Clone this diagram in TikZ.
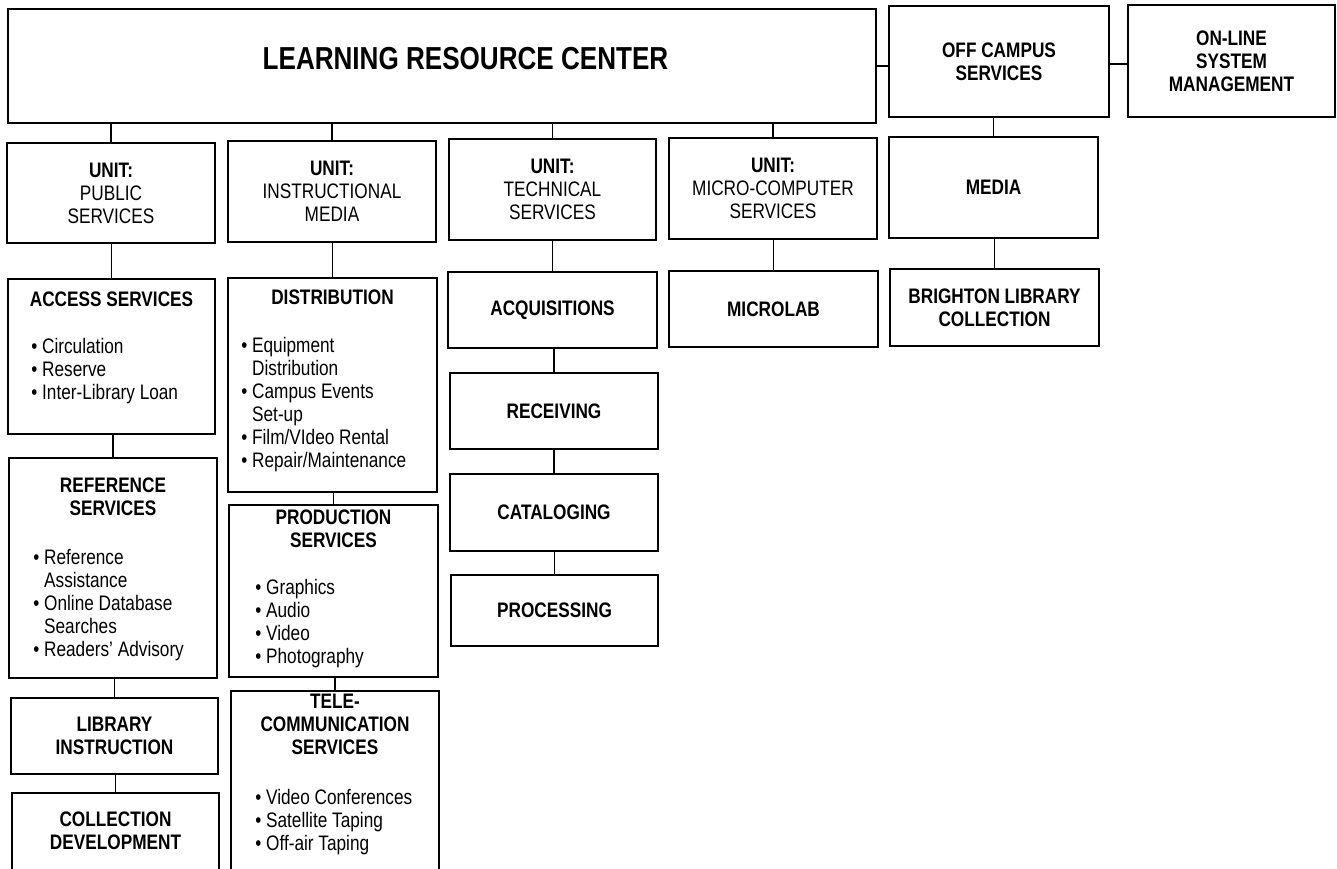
\documentclass[tikz,border=0pt]{standalone}
\usepackage{fontspec}
\setmainfont{Liberation Sans}[FakeStretch=0.82]
\usetikzlibrary{positioning}
\newcommand{\bodysize}{\fontsize{21}{23}\selectfont}
\tikzset{
  obox/.style={draw, line width=1.7pt, inner sep=0pt, align=center, font=\bodysize},
  bbox/.style={obox, font=\bodysize\bfseries},
  head/.style={inner sep=0pt, align=center, font=\bodysize\bfseries},
  items/.style={inner sep=0pt, align=left, anchor=north west, font=\bodysize},
  ctitle/.style={inner sep=0pt, font=\fontsize{31.8}{36}\selectfont\bfseries},
  link/.style={line width=1.2pt},
}
\begin{document}
\begin{tikzpicture}[x=1pt, y=-1pt]
  \useasboundingbox (0,0) rectangle (1337,868);
  \clip (0,0) rectangle (1337,868);
  % top row
  \node[obox, minimum width=868pt, minimum height=114pt] (lrc) at (442,66) {};
  \node[ctitle] (lrc-t) at (465.5,58.5) {LEARNING RESOURCE CENTER};
  \node[bbox, minimum width=220pt, minimum height=111pt] (off) at (999,61.5) {OFF CAMPUS\\SERVICES};
  \node[bbox, minimum width=207pt, minimum height=112pt] (online) at (1231.5,61) {ON-LINE\\SYSTEM\\MANAGEMENT};
  % units
  \node[obox, minimum width=208pt, minimum height=100pt] (pub) at (111,193) {\textbf{UNIT:}\\PUBLIC\\SERVICES};
  \node[obox, minimum width=208pt, minimum height=101pt] (ins) at (332,191.5) {\textbf{UNIT:}\\INSTRUCTIONAL\\MEDIA};
  \node[obox, minimum width=207pt, minimum height=101pt] (tech) at (552.5,189.5) {\textbf{UNIT:}\\TECHNICAL\\SERVICES};
  \node[obox, minimum width=208pt, minimum height=101pt] (micro) at (773,188.5) {\textbf{UNIT:}\\MICRO-COMPUTER\\SERVICES};
  \node[bbox, minimum width=209pt, minimum height=101pt] (media) at (993.5,187.5) {MEDIA};
  % public services
  \node[obox, minimum width=207pt, minimum height=155pt] (acc) at (111.5,356.5) {};
  \node[head, below=13pt of acc.north] (acc-h) {ACCESS SERVICES};
  \node[items] (acc-l) at ([xshift=24pt,yshift=-60pt]acc.north west)
    {\textbullet\ Circulation\\\textbullet\ Reserve\\\textbullet\ Inter-Library Loan};
  \node[obox, minimum width=208pt, minimum height=220pt] (ref) at (113,568) {};
  \node[head, below=20pt of ref.north] (ref-h) {REFERENCE\\SERVICES};
  \node[items] (ref-l) at ([xshift=25pt,yshift=-92pt]ref.north west)
    {\textbullet\ Reference\\\phantom{\textbullet\ }Assistance\\\textbullet\ Online Database\\\phantom{\textbullet\ }Searches\\\textbullet\ Readers' Advisory};
  \node[bbox, minimum width=207pt, minimum height=76pt] (lib) at (114.5,736) {LIBRARY\\INSTRUCTION};
  \node[obox, minimum width=207pt, minimum height=92pt] (coll) at (115.5,839) {};
  \node[head] (coll-t) at (115.5,830.5) {COLLECTION\\DEVELOPMENT};
  % instructional media
  \node[obox, minimum width=209pt, minimum height=214pt] (dist) at (332.5,385) {};
  \node[head, below=12pt of dist.north] (dist-h) {DISTRIBUTION};
  \node[items] (dist-l) at ([xshift=14pt,yshift=-60pt]dist.north west)
    {\textbullet\ Equipment\\\phantom{\textbullet\ }Distribution\\\textbullet\ Campus Events\\\phantom{\textbullet\ }Set-up\\\textbullet\ Film/VIdeo Rental\\\textbullet\ Repair/Maintenance};
  \node[obox, minimum width=209pt, minimum height=172pt] (prod) at (333.5,591) {};
  \node[head, below=5pt of prod.north] (prod-h) {PRODUCTION\\SERVICES};
  \node[items] (prod-l) at ([xshift=27pt,yshift=-75pt]prod.north west)
    {\textbullet\ Graphics\\\textbullet\ Audio\\\textbullet\ Video\\\textbullet\ Photography};
  \node[obox, minimum width=208pt, minimum height=194pt] (tel) at (335,788) {};
  \node[head, below=4pt of tel.north] (tel-h) {TELE-\\COMMUNICATION\\SERVICES};
  \node[items] (tel-l) at ([xshift=25pt,yshift=-99pt]tel.north west)
    {\textbullet\ Video Conferences\\\textbullet\ Satellite Taping\\\textbullet\ Off-air Taping};
  % technical services
  \node[bbox, minimum width=209pt, minimum height=76pt] (acq) at (552.5,310) {ACQUISITIONS};
  \node[bbox, minimum width=208pt, minimum height=76pt] (rec) at (554,411) {RECEIVING};
  \node[bbox, minimum width=208pt, minimum height=77pt] (cat) at (554,512.5) {CATALOGING};
  \node[bbox, minimum width=207pt, minimum height=71pt] (proc) at (554.5,610.5) {PROCESSING};
  % micro-computer and off campus
  \node[bbox, minimum width=209pt, minimum height=76pt] (mlab) at (773.5,309) {MICROLAB};
  \node[bbox, minimum width=209pt, minimum height=77pt] (brig) at (994.5,307.5) {BRIGHTON LIBRARY\\COLLECTION};
  % connectors
  \draw[link] (lrc.east) -- (lrc.east -| off.west);
  \draw[link] (off.east |- 0,64) -- (online.west |- 0,64);
  \foreach \u in {pub,ins,tech,micro}
    \draw[link] (\u.north) -- (\u.north |- lrc.south);
  \draw[link] (media.north) -- (media.north |- off.south);
  \draw[link] (acc.north) -- (acc.north |- pub.south);
  \draw[link] (ref.north) -- (ref.north |- acc.south);
  \draw[link] (lib.north) -- (lib.north |- ref.south);
  \draw[link] (coll.north) -- (coll.north |- lib.south);
  \draw[link] (dist.north) -- (dist.north |- ins.south);
  \draw[link] (prod.north) -- (prod.north |- dist.south);
  \draw[link] (tel.north) -- (tel.north |- prod.south);
  \draw[link] (acq.north) -- (acq.north |- tech.south);
  \draw[link] (rec.north) -- (rec.north |- acq.south);
  \draw[link] (cat.north) -- (cat.north |- rec.south);
  \draw[link] (proc.north) -- (proc.north |- cat.south);
  \draw[link] (mlab.north) -- (mlab.north |- micro.south);
  \draw[link] (brig.north) -- (brig.north |- media.south);
\end{tikzpicture}
\end{document}
